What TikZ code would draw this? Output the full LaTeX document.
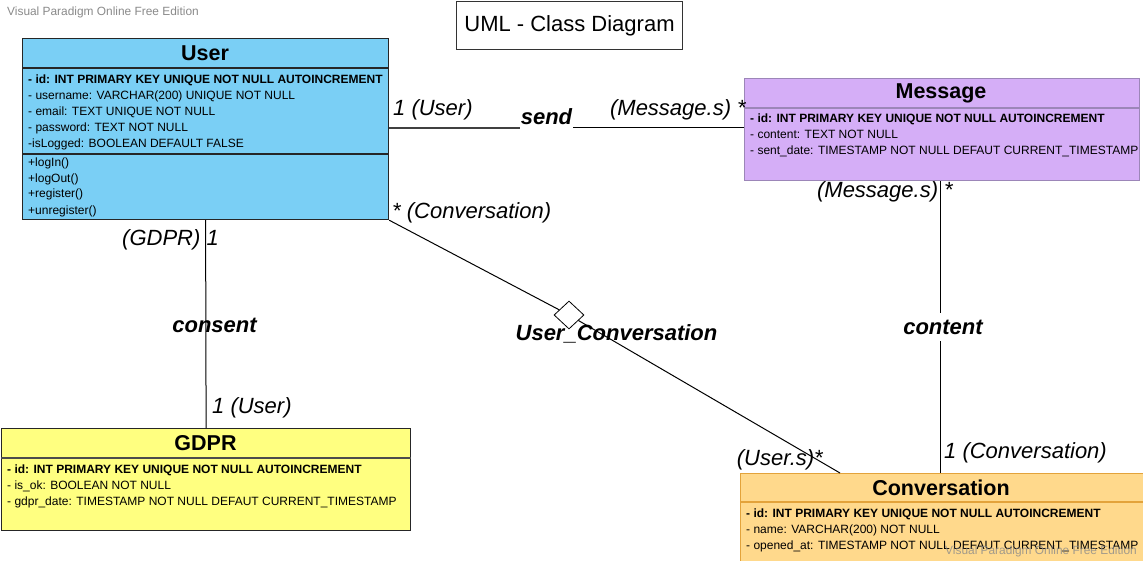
\documentclass[tikz,border=0pt]{standalone}
\usepackage{fontspec}
\setmainfont{Liberation Sans}
\usetikzlibrary{shapes.geometric,calc}
\definecolor{userfill}{HTML}{7ACFF5}
\definecolor{msgfill}{HTML}{D5AEF7}
\definecolor{msgdraw}{HTML}{9C86B8}
\definecolor{gdprfill}{HTML}{FFFF80}
\definecolor{convfill}{HTML}{FFD98C}
\definecolor{convdraw}{HTML}{E3A33B}
\definecolor{wm}{HTML}{8A8A8A}
\begin{document}
\begin{tikzpicture}[x=1pt,y=-1pt,
 classbox/.style={draw=black!85, line width=1.2pt, rectangle, inner sep=0pt, anchor=north west},
 divider/.style={line width=1.2pt},
 ctitle/.style={font=\bfseries\fontsize{21.5}{25}\selectfont, inner sep=0pt},
 attr/.style={anchor=base west, inner sep=0pt, font=\fontsize{12}{14}\selectfont},
 attrb/.style={attr, font=\bfseries\fontsize{12}{14}\selectfont},
 assoc/.style={draw=black, line width=1pt},
 mult/.style={inner sep=0pt, font=\itshape\fontsize{22}{26}\selectfont},
 relname/.style={inner sep=0pt, font=\bfseries\itshape\fontsize{22}{26}\selectfont},
 wmark/.style={text=wm, inner sep=0pt, font=\fontsize{11.9}{14}\selectfont}]
\useasboundingbox (0,0) rectangle (1143,561);
\fill[white] (0,0) rectangle (1143,561);

% title
\node[draw=black!80, line width=1pt, minimum width=226pt, minimum height=48pt, anchor=north west,
      font=\fontsize{22}{26}\selectfont] (title) at (456,1) {UML - Class Diagram};

% watermark top
\node[wmark, anchor=west] (wm1) at (7,12) {Visual Paradigm Online Free Edition};

% ===== User =====
\node[classbox, fill=userfill, minimum width=366pt, minimum height=181pt] (user) at (22,38) {};
\draw[divider, draw=black!85] ($(user.north west)+(0,30)$) -- ($(user.north east)+(0,30)$);
\draw[divider, draw=black!85] ($(user.north west)+(0,116)$) -- ($(user.north east)+(0,116)$);
\node[ctitle] (usert) at (205,53) {User};
\node[attrb] (u1) at (28,83.4) {- id: INT PRIMARY KEY UNIQUE NOT NULL AUTOINCREMENT};
\node[attr] (u2) at (28,99.6) {- username: VARCHAR(200) UNIQUE NOT NULL};
\node[attr] (u3) at (28,115.4) {- email: TEXT UNIQUE NOT NULL};
\node[attr] (u4) at (28,131.6) {- password: TEXT NOT NULL};
\node[attr] (u5) at (28,147.6) {-isLogged: BOOLEAN DEFAULT FALSE};
\node[attr] (u6) at (28,166.4) {+logIn()};
\node[attr] (u7) at (28,182.2) {+logOut()};
\node[attr] (u8) at (28,198) {+register()};
\node[attr] (u9) at (28,214.2) {+unregister()};

% ===== Message =====
\node[classbox, draw=msgdraw, fill=msgfill, minimum width=395pt, minimum height=102pt] (msg) at (744,78) {};
\draw[divider, draw=msgdraw] ($(msg.north west)+(0,30)$) -- ($(msg.north east)+(0,30)$);
\node[ctitle] (msgt) at (941,93) {Message};
\node[attrb] (m1) at (750,122.4) {- id: INT PRIMARY KEY UNIQUE NOT NULL AUTOINCREMENT};
\node[attr] (m2) at (750,138.4) {- content: TEXT NOT NULL};
\node[attr] (m3) at (750,154.4) {- sent\_date: TIMESTAMP NOT NULL DEFAUT CURRENT\_TIMESTAMP};

% ===== GDPR =====
\node[classbox, fill=gdprfill, minimum width=409pt, minimum height=102pt] (gdpr) at (1,428) {};
\draw[divider, draw=black!70] ($(gdpr.north west)+(0,30)$) -- ($(gdpr.north east)+(0,30)$);
\node[ctitle] (gdprt) at (205.5,443) {GDPR};
\node[attrb] (g1) at (7,473.4) {- id: INT PRIMARY KEY UNIQUE NOT NULL AUTOINCREMENT};
\node[attr] (g2) at (7,489.4) {- is\_ok: BOOLEAN NOT NULL};
\node[attr] (g3) at (7,505.4) {- gdpr\_date: TIMESTAMP NOT NULL DEFAUT CURRENT\_TIMESTAMP};

% ===== Conversation =====
\node[classbox, draw=convdraw, fill=convfill, minimum width=404pt, minimum height=88pt] (conv) at (740,473) {};
\draw[divider, draw=convdraw] ($(conv.north west)+(0,29)$) -- ($(conv.north east)+(0,29)$);
\node[ctitle] (convt) at (941,488) {Conversation};
\node[attrb] (c1) at (746,517.4) {- id: INT PRIMARY KEY UNIQUE NOT NULL AUTOINCREMENT};
\node[attr] (c2) at (746,533.4) {- name: VARCHAR(200) NOT NULL};
\node[attr] (c3) at (746,549.4) {- opened\_at: TIMESTAMP NOT NULL DEFAUT CURRENT\_TIMESTAMP};

% ===== send =====
\node[relname] (send) at (546.5,117) {send};
\coordinate (sendL) at (520,128);
\coordinate (sendR) at (573,128);
\draw[assoc, draw=black!75, line width=1.4pt] (user.east |- sendL) -- (sendL);
\draw[assoc] (sendR) -- (msg.west |- sendR);
\node[mult, anchor=west] (m_s1) at (393,110) {1 (User)};
\node[mult, anchor=east] (m_s2) at (746,110) {(Message.s) *};

% ===== consent =====
\draw[assoc] (user.south) -- (gdpr.north);
\node[relname] (consent) at (214.5,325) {consent};
\node[mult, anchor=east] (m_c1) at (219,240) {(GDPR) 1};
\node[mult, anchor=west] (m_c2) at (212,408) {1 (User)};

% ===== content =====
\coordinate (cx) at (940,0);
\node[relname, minimum height=28pt] (content) at (943,327) {content};
\draw[assoc] (msg.south -| cx) -- (content.north -| cx);
\draw[assoc] (content.south -| cx) -- (conv.north -| cx);
\node[mult, anchor=east] (m_t1) at (953,192) {(Message.s) *};
\node[mult, anchor=west] (m_t2) at (944,453) {1 (Conversation)};

% ===== User_Conversation =====
\node[diamond, draw=black, line width=0.8pt, fill=white, minimum width=30pt, minimum height=28pt, inner sep=0pt] (dia) at (569,315) {};
\draw[assoc] (user.south east) -- (dia);
\draw[assoc] (dia) -- ($(conv.north west)+(100,0)$);
\node[relname] (ucname) at (616.5,334) {User\_Conversation};
\node[mult, anchor=west] (m_u1) at (392,213) {* (Conversation)};
\node[mult, anchor=east] (m_u2) at (823,460) {(User.s)*};

% watermark bottom
\node[wmark, anchor=east, opacity=0.8] (wm2) at (1137,551) {Visual Paradigm Online Free Edition};
\end{tikzpicture}
\end{document}
